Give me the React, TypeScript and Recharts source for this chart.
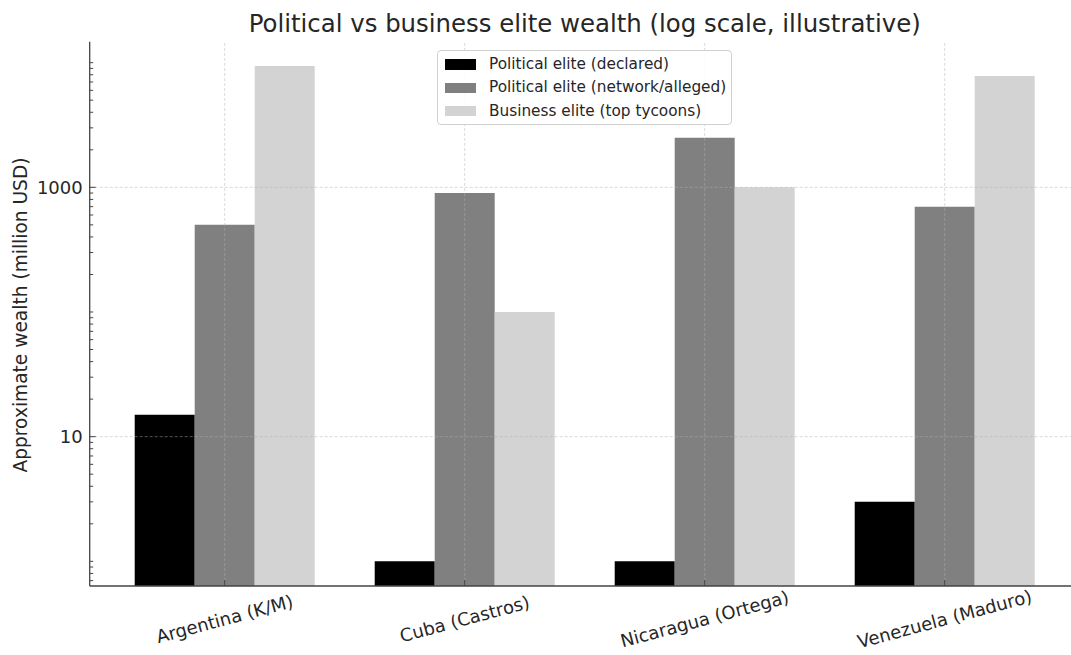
import React from 'react';
import { BarChart, Bar, XAxis, YAxis, ReferenceLine, Legend } from 'recharts';

// ---- data ----
const categories = ['Argentina (K/M)', 'Cuba (Castros)', 'Nicaragua (Ortega)', 'Venezuela (Maduro)'];
const declared = [15, 1, 1, 3];
const network = [500, 900, 2500, 700];
const business = [9400, 100, 1000, 7800];
const seriesKeys = ['declared', 'network', 'business'];
const seriesNames = ['Political elite (declared)', 'Political elite (network/alleged)', 'Business elite (top tycoons)'];
const seriesColors = ['#000000', '#808080', '#d3d3d3'];
const majorTicks = [10, 1000];
const minorTicks = [0.7, 0.8, 0.9, 1, 2, 3, 4, 5, 6, 7, 8, 9, 20, 30, 40, 50, 60, 70, 80, 90, 100, 200, 300, 400, 500, 600, 700, 800, 900, 2000, 3000, 4000, 5000, 6000, 7000, 8000, 9000, 10000];
const yDomain = [0.634, 14730];
const title = 'Political vs business elite wealth (log scale, illustrative)';
const yLabel = 'Approximate wealth (million USD)';

const data = categories.map((c, i) => ({
  category: c,
  declared: declared[i],
  network: network[i],
  business: business[i],
}));
const allTicks = [...majorTicks, ...minorTicks].sort((a, b) => a - b);

// ---- layout ----
const CHART_W = 1100;
const CHART_H = 655;
const PLOT_LEFT = 89.7;
const PLOT_TOP = 41.7;
const PLOT_BOTTOM = 586;
const PLOT_RIGHT = 1079.7;
const YAXIS_W = 60;
const XAXIS_H = 50;
const FONT = '"DejaVu Sans", sans-serif';
const TEXT = '#262626';
const AXIS = '#444444';

const gridProps = {
  stroke: '#b0b0b0',
  strokeOpacity: 0.6,
  strokeDasharray: '3 2',
  strokeWidth: 0.8,
};

const YTick = (props: any) => {
  const { y, payload } = props;
  const v = payload.value;
  const major = majorTicks.includes(v);
  return (
    <g>
      <line x1={PLOT_LEFT} x2={PLOT_LEFT + (major ? 6 : 3.5)} y1={y} y2={y} stroke={AXIS} strokeWidth={1} />
      {major && (
        <text x={PLOT_LEFT - 7} y={y} dy="0.35em" textAnchor="end" fontSize={18} fill={TEXT} fontFamily={FONT}>
          {v}
        </text>
      )}
    </g>
  );
};

const LABEL_CY = 619;
const XTick = (props: any) => {
  const { x, payload } = props;
  return (
    <g>
      <line x1={x} x2={x} y1={PLOT_BOTTOM} y2={PLOT_BOTTOM - 6} stroke={AXIS} strokeWidth={1} />
      <text
        x={x}
        y={LABEL_CY}
        dy="0.35em"
        textAnchor="middle"
        transform={`rotate(-15, ${x}, ${LABEL_CY})`}
        fontSize={18}
        fill={TEXT}
        fontFamily={FONT}
      >
        {payload.value}
      </text>
    </g>
  );
};

const renderLegend = () => (
  <div
    style={{
      boxSizing: 'border-box',
      width: 295,
      height: 75,
      border: '1px solid #d0d0d0',
      borderRadius: 4,
      background: 'rgba(255,255,255,0.85)',
      paddingTop: 2,
      fontFamily: FONT,
      fontSize: 15.3,
      color: TEXT,
    }}
  >
    {seriesNames.map((n) => (
      <div key={n} style={{ display: 'flex', alignItems: 'center', height: 23.3 }}>
        <div style={{ width: 31, height: 10.5, background: seriesColors[seriesNames.indexOf(n)], marginLeft: 7, marginRight: 13 }} />
        <span style={{ whiteSpace: 'nowrap', lineHeight: '15px' }}>{n}</span>
      </div>
    ))}
  </div>
);

export default function App() {
  return (
    <div
      style={{
        position: 'absolute',
        left: 0,
        top: 0,
        width: 1071,
        height: 655,
        overflow: 'hidden',
        background: '#ffffff',
      }}
    >
      <BarChart
        width={CHART_W}
        height={CHART_H}
        data={data}
        margin={{
          top: PLOT_TOP,
          left: PLOT_LEFT - YAXIS_W,
          right: CHART_W - PLOT_RIGHT,
          bottom: CHART_H - PLOT_BOTTOM - XAXIS_H,
        }}
        barCategoryGap="12.5%"
        barGap={0}
      >
        <XAxis
          dataKey="category"
          height={XAXIS_H}
          padding={{ left: 15, right: 15 }}
          tickLine={false}
          interval={0}
          tick={<XTick />}
          axisLine={{ stroke: AXIS, strokeWidth: 1.3 }}
        />
        <YAxis
          scale="log"
          type="number"
          domain={yDomain}
          allowDataOverflow
          ticks={allTicks}
          interval={0}
          width={YAXIS_W}
          tickLine={false}
          tick={<YTick />}
          axisLine={{ stroke: AXIS, strokeWidth: 1.3 }}
        />
        {seriesKeys.map((k, i) => (
          <Bar key={k} dataKey={k} name={seriesNames[i]} fill={seriesColors[i]} isAnimationActive={false} />
        ))}
        {majorTicks.map((t) => (
          <ReferenceLine key={'h' + t} y={t} {...gridProps} />
        ))}
        {categories.map((c) => (
          <ReferenceLine key={'v' + c} x={c} {...gridProps} />
        ))}
        <Legend
          layout="vertical"
          align="center"
          verticalAlign="middle"
          content={renderLegend}
          wrapperStyle={{ position: 'absolute', left: 437, top: 50, width: 295, height: 75 }}
        />
      </BarChart>
      <div
        style={{
          position: 'absolute',
          left: 0,
          width: (PLOT_LEFT + PLOT_RIGHT),
          top: 12.4,
          textAlign: 'center',
          fontFamily: FONT,
          fontSize: 24.4,
          lineHeight: '24px',
          color: TEXT,
          whiteSpace: 'nowrap',
        }}
      >
        {title}
      </div>
      <div
        style={{
          position: 'absolute',
          left: 21 - 200,
          top: 315 - 9,
          width: 400,
          height: 18,
          transform: 'rotate(-90deg)',
          textAlign: 'center',
          fontFamily: FONT,
          fontSize: 18.6,
          lineHeight: '18px',
          color: TEXT,
          whiteSpace: 'nowrap',
        }}
      >
        {yLabel}
      </div>
    </div>
  );
}
